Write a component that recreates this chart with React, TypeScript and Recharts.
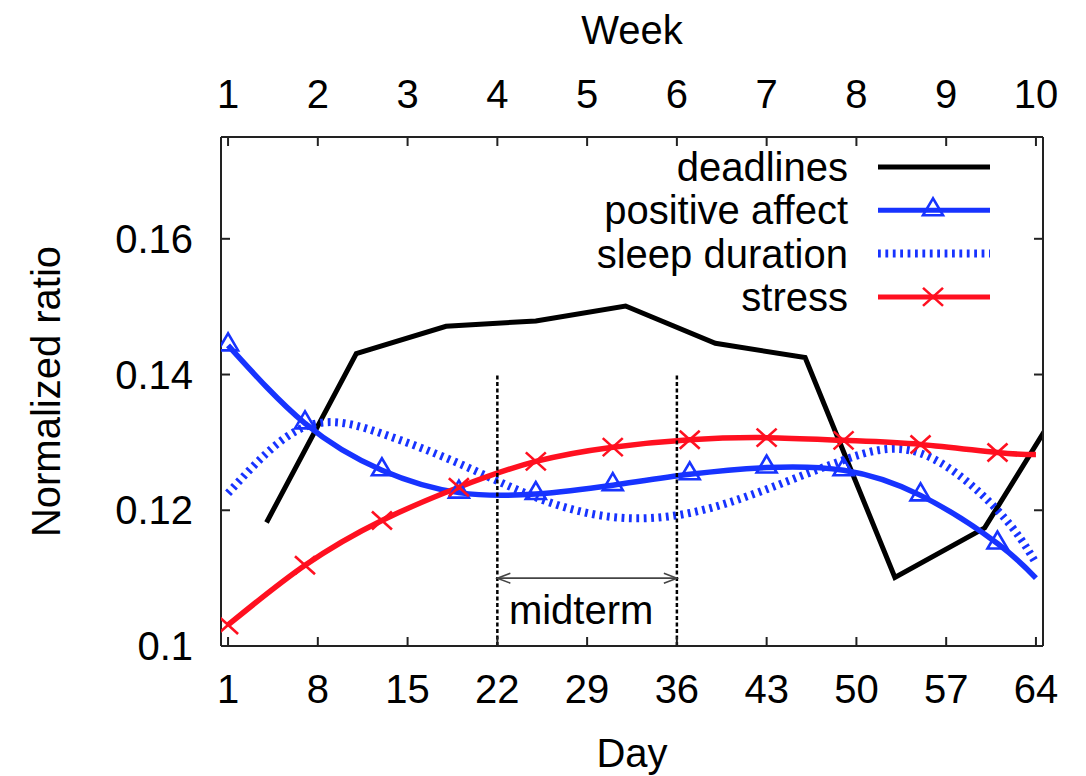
import { Legend, Line, LineChart, ReferenceLine, XAxis, YAxis } from 'recharts'

const FONT = '"Liberation Sans", Arial, Helvetica, sans-serif'
const BLUE = '#1733ff'
const RED = '#ff1020'
const FRAME = '#222'

// fitted curves, read at the marker days (plus the last day)
const fitDays = [1, 7, 13, 19, 25, 31, 37, 43, 49, 55, 61, 64]
const markerDays = [1, 7, 13, 19, 25, 31, 37, 43, 49, 55, 61]
const positiveAffect = [0.1443, 0.1328, 0.1259, 0.1226, 0.1224, 0.1237, 0.1253, 0.1263, 0.1259, 0.1222, 0.1151, 0.11]
const sleepDuration = [0.1225, 0.1323, 0.1313, 0.1269, 0.1219, 0.119, 0.1196, 0.1231, 0.1274, 0.1284, 0.12, 0.1122]
const stress = [0.1031, 0.1119, 0.1185, 0.1234, 0.1272, 0.1293, 0.1304, 0.1307, 0.1303, 0.1297, 0.1285, 0.1282]

// weekly deadlines, mid-week
const deadlineDays = [4, 11, 18, 25, 32, 39, 46, 53, 60, 67]
const deadlines = [0.1182, 0.1431, 0.1471, 0.1479, 0.1501, 0.1446, 0.1425, 0.1101, 0.1174, 0.1388]

const dayTicks = [1, 8, 15, 22, 29, 36, 43, 50, 57, 64]
const weekLabels = ['1', '2', '3', '4', '5', '6', '7', '8', '9', '10']
const ratioTicks = [0.1, 0.12, 0.14, 0.16]
const ratioLabels = ['0.1', '0.12', '0.14', '0.16']

const midtermStart = 22
const midtermEnd = 36
const midtermTop = 0.14
const midtermArrowY = 0.11

const legendItems = [
  { name: 'deadlines', color: '#000', marker: 'none', dash: undefined },
  { name: 'positive affect', color: BLUE, marker: 'triangle', dash: undefined },
  { name: 'sleep duration', color: BLUE, marker: 'none', dash: '2.8 4.6' },
  { name: 'stress', color: RED, marker: 'cross', dash: undefined },
]

const toPoints = (days: number[], values: number[]) => days.map((day, i) => ({ day, value: values[i] }))

const textStyle = { fontFamily: FONT, fontSize: 40, fill: '#000' }

function Triangle({ cx, cy, color }: { cx: number; cy: number; color: string }) {
  return (
    <polygon
      points={`${cx},${cy - 12} ${cx - 10},${cy + 5} ${cx + 10},${cy + 5}`}
      fill="none"
      stroke={color}
      strokeWidth={2.6}
    />
  )
}

function Cross({ cx, cy, color }: { cx: number; cy: number; color: string }) {
  return (
    <g stroke={color} strokeWidth={2.6}>
      <line x1={cx - 10} y1={cy - 9} x2={cx + 10} y2={cy + 9} />
      <line x1={cx - 10} y1={cy + 9} x2={cx + 10} y2={cy - 9} />
    </g>
  )
}

function TriangleDot(props: any) {
  const { cx, cy, payload, index } = props
  if (!markerDays.includes(payload?.day)) return <g key={`t${index}`} />
  return <Triangle key={`t${index}`} cx={cx} cy={cy} color={BLUE} />
}

function CrossDot(props: any) {
  const { cx, cy, payload, index } = props
  if (!markerDays.includes(payload?.day)) return <g key={`c${index}`} />
  return <Cross key={`c${index}`} cx={cx} cy={cy} color={RED} />
}

function BottomTick({ x, y, payload }: any) {
  return (
    <g>
      <line x1={x} x2={x} y1={y} y2={y - 9} stroke={FRAME} strokeWidth={2} />
      <text x={x} y={y + 57} textAnchor="middle" {...textStyle}>
        {payload.value}
      </text>
    </g>
  )
}

function TopTick({ x, y, payload }: any) {
  const week = weekLabels[dayTicks.indexOf(payload.value)]
  return (
    <g>
      <line x1={x} x2={x} y1={y} y2={y + 9} stroke={FRAME} strokeWidth={2} />
      <text x={x} y={y - 29} textAnchor="middle" {...textStyle}>
        {week}
      </text>
    </g>
  )
}

function LeftTick({ x, y, payload }: any) {
  const label = ratioLabels[ratioTicks.indexOf(payload.value)]
  return (
    <g>
      <line x1={x} x2={x + 9} y1={y} y2={y} stroke={FRAME} strokeWidth={2} />
      <text x={x - 28} y={y + 14} textAnchor="end" {...textStyle}>
        {label}
      </text>
    </g>
  )
}

function RightTick({ x, y }: any) {
  return <line x1={x} x2={x - 9} y1={y} y2={y} stroke={FRAME} strokeWidth={2} />
}

function MidtermArrow({ x1, y1, x2 }: any) {
  const left = Math.min(x1, x2)
  const right = Math.max(x1, x2)
  return (
    <g stroke="#444" strokeWidth={1.6} fill="none">
      <line x1={left} y1={y1} x2={right} y2={y1} />
      <polyline points={`${left + 13},${y1 - 5} ${left},${y1} ${left + 13},${y1 + 5}`} />
      <polyline points={`${right - 13},${y1 - 5} ${right},${y1} ${right - 13},${y1 + 5}`} />
    </g>
  )
}

function ChartLegend() {
  return (
    <svg width={440} height={180} style={{ display: 'block' }}>
      {legendItems.map((item, i) => {
        const y = 22 + i * 43.3
        return (
          <g key={item.name}>
            <text x={268} y={y + 14} textAnchor="end" {...textStyle}>
              {item.name}
            </text>
            <line
              x1={298}
              x2={410}
              y1={y}
              y2={y}
              stroke={item.color}
              strokeWidth={item.dash ? 8 : 5}
              strokeDasharray={item.dash}
            />
            {item.marker === 'triangle' && <Triangle cx={353} cy={y} color={item.color} />}
            {item.marker === 'cross' && <Cross cx={353} cy={y} color={item.color} />}
          </g>
        )
      })}
    </svg>
  )
}

export default function App() {
  return (
    <div style={{ position: 'absolute', left: 0, top: 0, background: '#fff' }}>
      <LineChart width={1086} height={776} margin={{ top: 0, right: 0, bottom: 0, left: 0 }}>
        <XAxis
          dataKey="day"
          type="number"
          domain={[0.45, 64.55]}
          allowDataOverflow
          ticks={dayTicks}
          interval={0}
          height={130}
          tickSize={0}
          tickMargin={0}
          tickLine={false}
          tick={<BottomTick />}
          axisLine={{ stroke: FRAME, strokeWidth: 2 }}
          label={({ viewBox }: any) => (
            <text x={viewBox.x + viewBox.width / 2} y={767} textAnchor="middle" {...textStyle}>
              Day
            </text>
          )}
        />
        <XAxis
          xAxisId="top"
          orientation="top"
          dataKey="day"
          type="number"
          domain={[0.45, 64.55]}
          allowDataOverflow
          ticks={dayTicks}
          interval={0}
          height={137}
          tickSize={0}
          tickMargin={0}
          tickLine={false}
          tick={<TopTick />}
          axisLine={{ stroke: FRAME, strokeWidth: 2 }}
          label={({ viewBox }: any) => (
            <text x={viewBox.x + viewBox.width / 2} y={44} textAnchor="middle" {...textStyle}>
              Week
            </text>
          )}
        />
        <YAxis
          type="number"
          domain={[0.1, 0.175]}
          allowDataOverflow
          ticks={ratioTicks}
          interval={0}
          width={221}
          tickSize={0}
          tickMargin={0}
          tickLine={false}
          tick={<LeftTick />}
          axisLine={{ stroke: FRAME, strokeWidth: 2 }}
          label={({ viewBox }: any) => {
            const cx = viewBox.x + 46
            const cy = viewBox.y + viewBox.height / 2
            return (
              <text
                x={cx}
                y={cy}
                transform={`rotate(-90 ${cx} ${cy})`}
                textAnchor="middle"
                dominantBaseline="central"
                {...textStyle}
              >
                Normalized ratio
              </text>
            )
          }}
        />
        <YAxis
          yAxisId="right"
          orientation="right"
          type="number"
          domain={[0.1, 0.175]}
          allowDataOverflow
          ticks={ratioTicks}
          interval={0}
          width={43}
          tickSize={0}
          tickMargin={0}
          tickLine={false}
          tick={<RightTick />}
          axisLine={{ stroke: FRAME, strokeWidth: 2 }}
        />

        <Line
          data={toPoints(deadlineDays, deadlines)}
          dataKey="value"
          name="deadlines"
          type="linear"
          stroke="#000"
          strokeWidth={5}
          dot={false}
          activeDot={false}
          isAnimationActive={false}
        />
        <Line
          data={toPoints(fitDays, positiveAffect)}
          dataKey="value"
          name="positive affect"
          type="natural"
          stroke={BLUE}
          strokeWidth={5.5}
          dot={TriangleDot}
          activeDot={false}
          isAnimationActive={false}
        />
        <Line
          data={toPoints(fitDays, sleepDuration)}
          dataKey="value"
          name="sleep duration"
          type="natural"
          stroke={BLUE}
          strokeWidth={8}
          strokeDasharray="2.8 4.6"
          dot={false}
          activeDot={false}
          isAnimationActive={false}
        />
        <Line
          data={toPoints(fitDays, stress)}
          dataKey="value"
          name="stress"
          type="natural"
          stroke={RED}
          strokeWidth={5.5}
          dot={CrossDot}
          activeDot={false}
          isAnimationActive={false}
        />

        <ReferenceLine
          segment={[
            { x: midtermStart, y: 0.1 },
            { x: midtermStart, y: midtermTop },
          ]}
          stroke="#000"
          strokeWidth={2.5}
          strokeDasharray="4 2.5"
        />
        <ReferenceLine
          segment={[
            { x: midtermEnd, y: 0.1 },
            { x: midtermEnd, y: midtermTop },
          ]}
          stroke="#000"
          strokeWidth={2.5}
          strokeDasharray="4 2.5"
        />
        <ReferenceLine
          segment={[
            { x: midtermStart, y: midtermArrowY },
            { x: midtermEnd, y: midtermArrowY },
          ]}
          shape={MidtermArrow}
          label={{ value: 'midterm', position: 'bottom', offset: 17, dx: -6, ...textStyle }}
        />

        <Legend
          layout="vertical"
          align="center"
          verticalAlign="middle"
          wrapperStyle={{ left: 580, top: 145, width: 440, height: 180 }}
          content={<ChartLegend />}
        />
      </LineChart>
    </div>
  )
}
